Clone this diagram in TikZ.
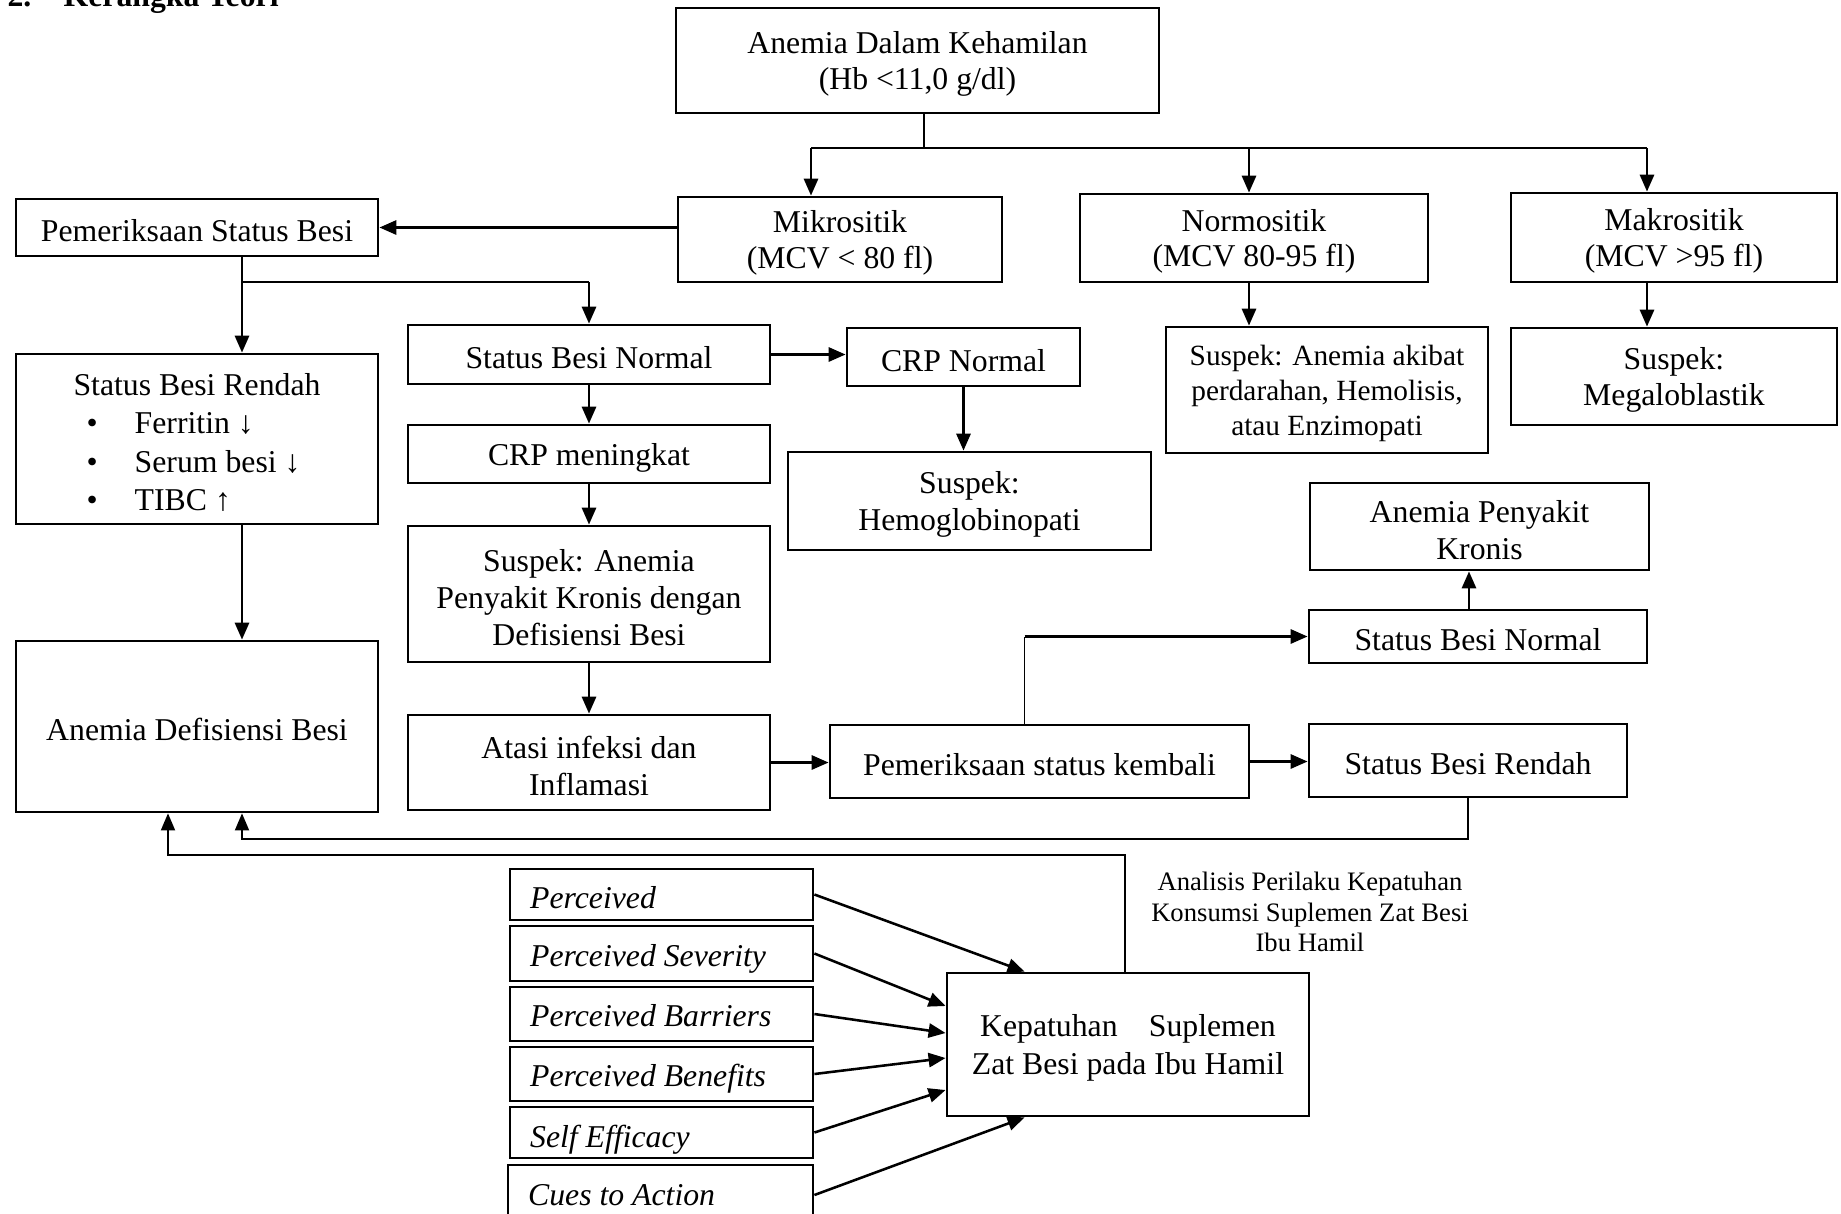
\documentclass[tikz,border=0pt]{standalone}
\usepackage{fontspec}
\setmainfont{Liberation Serif}
\usetikzlibrary{arrows.meta,calc}
% box with its text (text nudged down slightly, as in the reference)
\newcommand\bxn[7]{\node[box,minimum width={(#4-#2)*0.3528pt},minimum height={(#5-#3)*0.3528pt}] (#1) at ({(#2+#4)/2},{(#3+#5)/2}) {};
  \node[btext,#6] (#1-t) at (#1.center) {#7};}
% HBM box with left-aligned italic text
\newcommand\hbx[7]{\node[box,minimum width={(#4-#2)*0.3528pt},minimum height={(#5-#3)*0.3528pt}] (#1) at ({(#2+#4)/2},{(#3+#5)/2}) {};
  \node[hbmtext] (#1-t) at ($(#1.west)+(21,#6)$) {#7};}
\begin{document}
\begin{tikzpicture}[x=0.3528pt,y=-0.3528pt,
  font=\fontsize{11.2}{13}\selectfont,
  box/.style={draw, line width=1pt, inner sep=0pt},
  btext/.style={inner sep=0pt, align=center, yshift=-1.2pt},
  tight/.style={font=\fontsize{11.2}{12.4}\selectfont},
  hbmtext/.style={anchor=base west, inner sep=0pt, font=\fontsize{11.2}{13}\selectfont\itshape},
  arr/.style={line width=0.9pt, -{Triangle[length=6pt,width=5pt]}},
  thinln/.style={line width=0.45pt},
  thinarr/.style={line width=0.45pt, -{Triangle[length=6pt,width=5pt]}}
]
\fill[white] (0,0) rectangle (1841,1213);
\useasboundingbox (0,0) rectangle (1841,1213);

% title (cut at top edge, as in the reference)
\node[anchor=base west, inner sep=0pt, font=\fontsize{11.2}{13}\selectfont\bfseries] (title) at (7,6) {\makebox[19.8pt][l]{2.}Kerangka Teori};

% boxes
\bxn{top}{676}{8}{1159}{113}{}{Anemia Dalam Kehamilan\\(Hb <11,0 g/dl)}
\bxn{mik}{678}{197}{1002}{282}{tight}{Mikrositik\\(MCV < 80 fl)}
\bxn{nor}{1080}{194}{1428}{282}{tight}{Normositik\\(MCV 80-95 fl)}
\bxn{mak}{1511}{193}{1837}{282}{tight}{Makrositik\\(MCV >95 fl)}
\bxn{psb}{16}{199}{378}{256}{}{Pemeriksaan Status Besi}
\bxn{sbr}{16}{354}{378}{524}{align=left, font=\fontsize{11.2}{13.6}\selectfont}{Status Besi Rendah\\
   \hspace*{4.6pt}\makebox[17pt][l]{•}Ferritin ↓\\
   \hspace*{4.6pt}\makebox[17pt][l]{•}Serum besi ↓\\
   \hspace*{4.6pt}\makebox[17pt][l]{•}TIBC ↑}
\bxn{sbn}{408}{325}{770}{384}{}{Status Besi Normal}
\bxn{crpn}{847}{328}{1080}{386}{}{CRP Normal}
\bxn{crpm}{408}{425}{770}{483}{}{CRP meningkat}
\bxn{sapk}{408}{526}{770}{662}{}{Suspek: Anemia\\Penyakit Kronis dengan\\Defisiensi Besi}
\bxn{atasi}{408}{715}{770}{810}{}{Atasi infeksi dan\\Inflamasi}
\bxn{adb}{16}{641}{378}{812}{}{Anemia Defisiensi Besi}
\bxn{shemo}{788}{452}{1151}{550}{}{Suspek:\\Hemoglobinopati}
\bxn{sakb}{1166}{327}{1488}{453}{font=\fontsize{10.35}{12.3}\selectfont}{Suspek: Anemia akibat\\perdarahan, Hemolisis,\\atau Enzimopati}
\bxn{smeg}{1511}{328}{1837}{425}{tight}{Suspek:\\Megaloblastik}
\bxn{apk}{1310}{483}{1649}{570}{}{Anemia Penyakit\\Kronis}
\bxn{sbn2}{1309}{610}{1647}{663}{}{Status Besi Normal}
\bxn{psk}{830}{725}{1249}{798}{}{Pemeriksaan status kembali}
\bxn{sbr2}{1309}{724}{1627}{797}{}{Status Besi Rendah}
\bxn{kep}{947}{973}{1309}{1116}{font=\fontsize{11.2}{13.6}\selectfont}{Kepatuhan\hspace{11pt}Suplemen\\Zat Besi pada Ibu Hamil}
\node[align=center, inner sep=0pt, font=\fontsize{9.4}{10.8}\selectfont] (note) at (1310,912) {Analisis Perilaku Kepatuhan\\Konsumsi Suplemen Zat Besi\\Ibu Hamil};

% HBM boxes
\hbx{h1}{510}{869}{813}{920}{14}{Perceived}
\hbx{h2}{510}{926}{813}{981}{13}{Perceived Severity}
\hbx{h3}{510}{987}{813}{1041}{12.5}{Perceived Barriers}
\hbx{h4}{510}{1047}{813}{1101}{12}{Perceived Benefits}
\hbx{h5}{510}{1107}{813}{1158}{14.5}{Self Efficacy}
\hbx{h6}{508}{1165}{813}{1225}{10.5}{Cues to Action}

% top distribution
\coordinate (j0) at (924,148);
\coordinate (jm) at (811,148);
\coordinate (jn) at (1249,148);
\coordinate (jk) at (1647,148);
\draw[thinln] (top.south -| j0) -- (j0);
\draw[thinln] (jm) -- (jk);
\draw[arr] (jm) -- (jm |- mik.north);
\draw[arr] (jn) -- (jn |- nor.north);
\draw[arr] (jk) -- (jk |- mak.north);

\draw[arr] (mik.west |- psb.east) -- (psb.east);

% left branch
\coordinate (jp) at (242,282);
\draw[arr] (psb.south -| jp) -- (sbr.north -| jp);
\draw[thinln] (jp) -- (jp -| sbn.north);
\draw[arr] (jp -| sbn.north) -- (sbn.north);
\draw[arr] (sbr.south -| jp) -- (adb.north -| jp);

\draw[arr] (sbn.east) -- (sbn.east -| crpn.west);
\draw[arr] (sbn.south) -- (crpm.north);
\draw[arr] (crpm.south) -- (crpm.south |- sapk.north);
\draw[arr] (sapk.south) -- (sapk.south |- atasi.north);
\draw[arr] (crpn.south) -- (crpn.south |- shemo.north);
\draw[arr] (nor.south -| jn) -- (sakb.north -| jn);
\draw[arr] (mak.south -| jk) -- (smeg.north -| jk);

\draw[arr] (atasi.east) -- (atasi.east -| psk.west);
\draw[arr] (psk.east) -- (psk.east -| sbr2.west);

\coordinate (pu) at ($(psk.north west)+(196,0)$);
\draw[thinln] (pu) -- (pu |- sbn2.west);
\draw[arr] (pu |- sbn2.west) -- (sbn2.west);
\coordinate (su) at ($(sbn2.north)+(-9,0)$);
\draw[arr] (su) -- (su |- apk.south);

% feedback lines
\coordinate (fb1) at (242,839);
\coordinate (fb2) at (168,855);
\draw[thinarr] (sbr2.south) -- (sbr2.south |- fb1) -- (fb1) -- (fb1 |- adb.south);
\coordinate (ku) at ($(kep.north)+(-3,0)$);
\draw[thinarr] (ku) -- (ku |- fb2) -- (fb2) -- (fb2 |- adb.south);

% HBM arrows
\draw[arr] (h1.east) -- ($(kep.north west)+(79,0)$);
\draw[arr] (h2.east) -- ($(kep.west)+(0,-38.5)$);
\draw[arr] (h3.east) -- ($(kep.west)+(0,-11.5)$);
\draw[arr] (h4.east) -- ($(kep.west)+(0,13.5)$);
\draw[arr] (h5.east) -- ($(kep.west)+(0,45.5)$);
\draw[arr] (h6.east) -- ($(kep.south west)+(79,0)$);
\end{tikzpicture}
\end{document}
